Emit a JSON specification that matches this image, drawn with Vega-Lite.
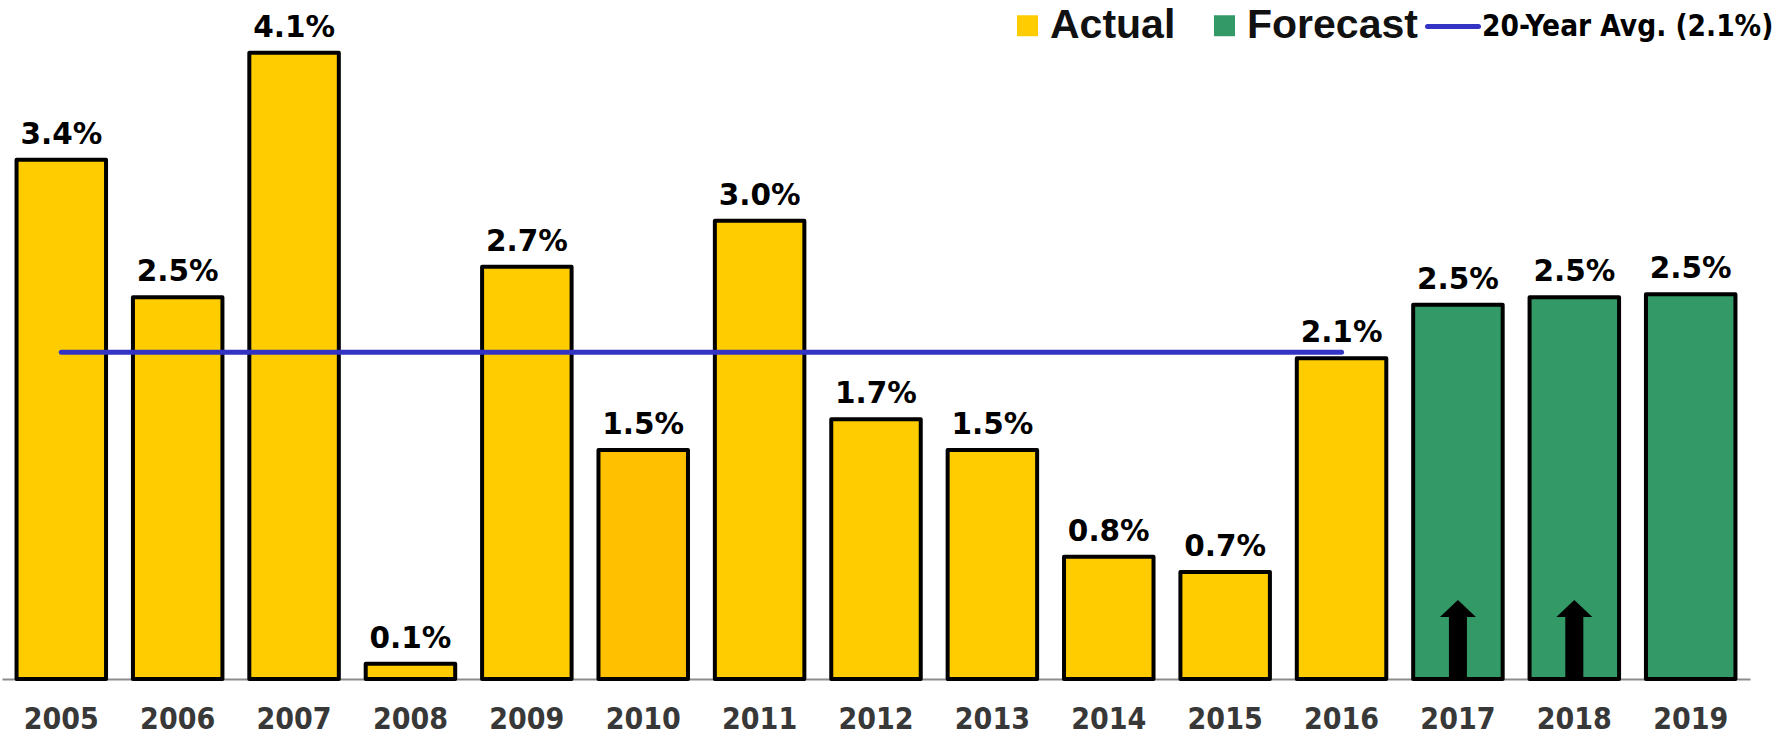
{
  "$schema": "https://vega.github.io/schema/vega-lite/v6.json",
  "autosize": {"type": "none"},
  "padding": {"left": 2, "top": 7, "right": 42, "bottom": 56},
  "width": 1748,
  "height": 672,
  "background": "white",
  "config": {"view": {"stroke": null}},
  "data": {
    "values": [
      {"year": "2005", "value": 3.4, "label": "3.4%", "type": "Actual", "avg": 2.14, "arrow": "none"},
      {"year": "2006", "value": 2.5, "label": "2.5%", "type": "Actual", "avg": 2.14, "arrow": "none"},
      {"year": "2007", "value": 4.1, "label": "4.1%", "type": "Actual", "avg": 2.14, "arrow": "none"},
      {"year": "2008", "value": 0.1, "label": "0.1%", "type": "Actual", "avg": 2.14, "arrow": "none"},
      {"year": "2009", "value": 2.7, "label": "2.7%", "type": "Actual", "avg": 2.14, "arrow": "none"},
      {"year": "2010", "value": 1.5, "label": "1.5%", "type": "Actual", "avg": 2.14, "arrow": "none"},
      {"year": "2011", "value": 3.0, "label": "3.0%", "type": "Actual", "avg": 2.14, "arrow": "none"},
      {"year": "2012", "value": 1.7, "label": "1.7%", "type": "Actual", "avg": 2.14, "arrow": "none"},
      {"year": "2013", "value": 1.5, "label": "1.5%", "type": "Actual", "avg": 2.14, "arrow": "none"},
      {"year": "2014", "value": 0.8, "label": "0.8%", "type": "Actual", "avg": 2.14, "arrow": "none"},
      {"year": "2015", "value": 0.7, "label": "0.7%", "type": "Actual", "avg": 2.14, "arrow": "none"},
      {"year": "2016", "value": 2.1, "label": "2.1%", "type": "Actual", "avg": 2.14, "arrow": "none"},
      {"year": "2017", "value": 2.45, "label": "2.5%", "type": "Forecast", "avg": null, "arrow": "up"},
      {"year": "2018", "value": 2.5, "label": "2.5%", "type": "Forecast", "avg": null, "arrow": "up"},
      {"year": "2019", "value": 2.52, "label": "2.5%", "type": "Forecast", "avg": null, "arrow": "none"}
    ]
  },
  "encoding": {
    "x": {
      "field": "year",
      "type": "ordinal",
      "scale": {"paddingInner": 0.231, "paddingOuter": 0.125},
      "axis": {
        "title": null,
        "labelAngle": 0,
        "ticks": false,
        "domain": true,
        "domainColor": "#8c8c8c",
        "domainWidth": 2,
        "labelFont": "DejaVu Sans Condensed",
        "labelFontWeight": "bold",
        "labelFontSize": 30,
        "labelColor": "#383838",
        "labelPadding": 25,
        "grid": false
      }
    }
  },
  "layer": [
    {
      "mark": {"type": "bar", "stroke": "black", "strokeWidth": 4, "strokeJoin": "round", "opacity": 1},
      "encoding": {
        "y": {"field": "value", "type": "quantitative", "scale": {"domain": [0, 4.4], "nice": false}, "axis": null},
        "fill": {
          "condition": {"test": "datum.year === '2010'", "value": "#FFC000"},
          "field": "type",
          "type": "nominal",
          "scale": {"domain": ["Actual", "Forecast"], "range": ["#FFCC00", "#339966"]},
          "legend": {
            "title": null,
            "orient": "none",
            "legendX": 1005,
            "legendY": -2,
            "direction": "horizontal",
            "padding": 0,
            "symbolType": "square",
            "symbolSize": 441,
            "symbolStrokeWidth": 0,
            "symbolStrokeColor": "transparent",
            "labelFont": "Liberation Sans",
            "labelFontWeight": "bold",
            "labelFontSize": 41,
            "labelColor": "#111111",
            "labelOffset": 2,
            "columnPadding": 28,
            "labelLimit": 400
          }
        }
      }
    },
    {
      "transform": [{"filter": "datum.arrow === 'up'"}],
      "mark": {
        "type": "point",
        "filled": true,
        "color": "black",
        "opacity": 1,
        "strokeWidth": 0,
        "size": 6400,
        "shape": "M-0.225,0.05L-0.225,-1.55L-0.45,-1.55L0,-1.975L0.45,-1.55L0.225,-1.55L0.225,0.05Z"
      },
      "encoding": {
        "y": {"datum": 0, "type": "quantitative"}
      }
    },
    {
      "transform": [{"filter": "datum.type === 'Actual'"}],
      "mark": {"type": "line", "strokeWidth": 5, "strokeCap": "round"},
      "encoding": {
        "y": {"field": "avg", "type": "quantitative"},
        "stroke": {
          "datum": "20-Year Avg. (2.1%)",
          "type": "nominal",
          "scale": {"range": ["#3434C4"]},
          "legend": {
            "title": null,
            "orient": "none",
            "legendX": 1423,
            "legendY": -8.5,
            "padding": 0,
            "symbolType": "stroke",
            "symbolSize": 2601,
            "symbolStrokeWidth": 5,
            "labelFont": "DejaVu Sans Condensed",
            "labelFontWeight": "bold",
            "labelFontSize": 29.5,
            "labelColor": "black",
            "labelOffset": 1,
            "labelLimit": 400,
            "encode": {"symbols": {"update": {"strokeCap": {"value": "round"}}}}
          }
        }
      }
    },
    {
      "mark": {"type": "text", "font": "DejaVu Sans", "fontWeight": "bold", "fontSize": 29.5, "color": "black", "baseline": "alphabetic", "dy": -16},
      "encoding": {
        "y": {"field": "value", "type": "quantitative"},
        "text": {"field": "label", "type": "nominal"}
      }
    }
  ]
}
